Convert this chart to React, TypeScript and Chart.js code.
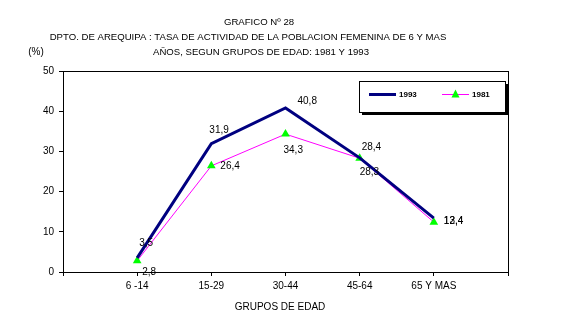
import React, { useEffect, useRef } from "react";
import { Chart, registerables } from "chart.js";

Chart.register(...registerables);

const categories = ["6 -14", "15-29", "30-44", "45-64", "65 Y MAS"];
const series1993 = [3.5, 31.9, 40.8, 28.4, 13.4];
const series1981 = [2.8, 26.4, 34.3, 28.3, 12.4];
const yTicks = [0, 10, 20, 30, 40, 50];
const titleLines = [
  "GRAFICO Nº 28",
  "DPTO. DE AREQUIPA : TASA DE ACTIVIDAD DE LA POBLACION FEMENINA DE 6 Y MAS",
  "AÑOS, SEGUN GRUPOS DE EDAD: 1981 Y 1993",
];
const xTitle = "GRUPOS DE EDAD";
const yUnit = "(%)";
const legendNames = ["1993", "1981"];

// label placement styles (offsets from the point, in px)
const labelOffsets1993 = [[2, -15], [-2, -14], [12, -7], [2, -11], [10, 3]];
const labelOffsets1981 = [[5, 12], [9, 0], [-2, 16], [0, 14], [10, -1]];

const FONT = "Arial, 'Liberation Sans', sans-serif";

const fmt = (v: number) => v.toFixed(1).replace(".", ",");

const decoPlugin = {
  id: "deco",
  afterDraw(chart: any) {
    const ctx = chart.ctx;
    const ca = chart.chartArea;
    ctx.save();
    // plot border
    ctx.strokeStyle = "#000";
    ctx.lineWidth = 1;
    ctx.strokeRect(Math.round(ca.left) + 0.5, Math.round(ca.top) + 0.5, Math.round(ca.right - ca.left), Math.round(ca.bottom - ca.top));

    ctx.fillStyle = "#000";
    ctx.font = `9.6px ${FONT}`;
    ctx.textBaseline = "middle";
    ctx.textAlign = "center";
    ctx.fillText(titleLines[0], 259, 22);
    ctx.fillText(titleLines[1], 248, 37);
    ctx.fillText(titleLines[2], 261, 52);
    ctx.font = `10px ${FONT}`;
    ctx.fillText(yUnit, 36, 52);
    ctx.fillText(xTitle, 280, 307);

    // data labels
    const offs = [labelOffsets1993, labelOffsets1981];
    chart.data.datasets.forEach((ds: any, di: number) => {
      const meta = chart.getDatasetMeta(di);
      meta.data.forEach((el: any, i: number) => {
        const [dx, dy] = offs[di][i];
        ctx.textAlign = "left";
        ctx.fillText(fmt(ds.data[i].y), el.x + dx, el.y + dy);
      });
    });

    // legend
    const lx = 359, ly = 81, lw = 146, lh = 31;
    ctx.fillStyle = "#000";
    ctx.fillRect(lx + 3, ly + 3, lw, lh);
    ctx.fillStyle = "#fff";
    ctx.fillRect(lx, ly, lw, lh);
    ctx.strokeStyle = "#000";
    ctx.lineWidth = 1;
    ctx.strokeRect(lx + 0.5, ly + 0.5, lw, lh);
    const my = ly + 13.5;
    ctx.strokeStyle = "#000080";
    ctx.lineWidth = 3;
    ctx.beginPath();
    ctx.moveTo(369, my);
    ctx.lineTo(396, my);
    ctx.stroke();
    ctx.strokeStyle = "#ff00ff";
    ctx.lineWidth = 1;
    ctx.beginPath();
    ctx.moveTo(442, my);
    ctx.lineTo(469, my);
    ctx.stroke();
    ctx.fillStyle = "#00ff00";
    ctx.beginPath();
    ctx.moveTo(455.5, my - 5);
    ctx.lineTo(459.5, my + 3);
    ctx.lineTo(451.5, my + 3);
    ctx.closePath();
    ctx.fill();
    ctx.fillStyle = "#000";
    ctx.font = `bold 8px ${FONT}`;
    ctx.textAlign = "left";
    ctx.fillText(legendNames[0], 399, my + 0.5);
    ctx.fillText(legendNames[1], 472, my + 0.5);
    ctx.restore();
  },
};

export default function App() {
  const ref = useRef<HTMLCanvasElement>(null);
  useEffect(() => {
    if (!ref.current) return;
    const chart = new Chart(ref.current, {
      type: "line",
      data: {
        datasets: [
          {
            label: legendNames[0],
            data: series1993.map((v, i) => ({ x: i + 1, y: v })),
            borderColor: "#000080",
            borderWidth: 3,
            pointRadius: 0,
            tension: 0,
          },
          {
            label: legendNames[1],
            data: series1981.map((v, i) => ({ x: i + 1, y: v })),
            borderColor: "#ff00ff",
            borderWidth: 1,
            pointStyle: "triangle",
            pointRadius: 5,
            pointBackgroundColor: "#00ff00",
            pointBorderColor: "#00ff00",
            pointBorderWidth: 0,
            tension: 0,
          },
        ],
      },
      options: {
        responsive: false,
        animation: false,
        layout: { padding: { left: 0, top: 71, right: 66, bottom: 0 } },
        plugins: { legend: { display: false }, title: { display: false }, tooltip: { enabled: false } },
        scales: {
          x: {
            type: "linear",
            min: 0,
            max: 6,
            afterFit: (s: any) => { s.height = 54; },
            afterBuildTicks: (s: any) => { s.ticks = [0, 1, 2, 3, 4, 5, 6].map((v) => ({ value: v })); },
            ticks: {
              color: "#000",
              font: { family: FONT, size: 10 },
              padding: 4,
              maxRotation: 0,
              autoSkip: false,
              callback: (v: any) => (v >= 1 && v <= 5 ? categories[v - 1] : ""),
            },
            grid: { drawOnChartArea: false, tickLength: 4, color: "#000" },
            border: { display: true, color: "#000", width: 1 },
          },
          y: {
            min: 0,
            max: 50,
            afterFit: (s: any) => { s.width = 63; },
            afterBuildTicks: (s: any) => { s.ticks = yTicks.map((v) => ({ value: v })); },
            ticks: { color: "#000", font: { family: FONT, size: 10 }, padding: 5 },
            grid: { drawOnChartArea: false, tickLength: 4, color: "#000" },
            border: { display: true, color: "#000", width: 1 },
          },
        },
      },
      plugins: [decoPlugin],
    });
    return () => chart.destroy();
  }, []);
  return (
    <div style={{ position: "absolute", left: 0, top: 0, width: 574, height: 326, background: "#fff" }}>
      <canvas ref={ref} width={574} height={326} />
    </div>
  );
}
